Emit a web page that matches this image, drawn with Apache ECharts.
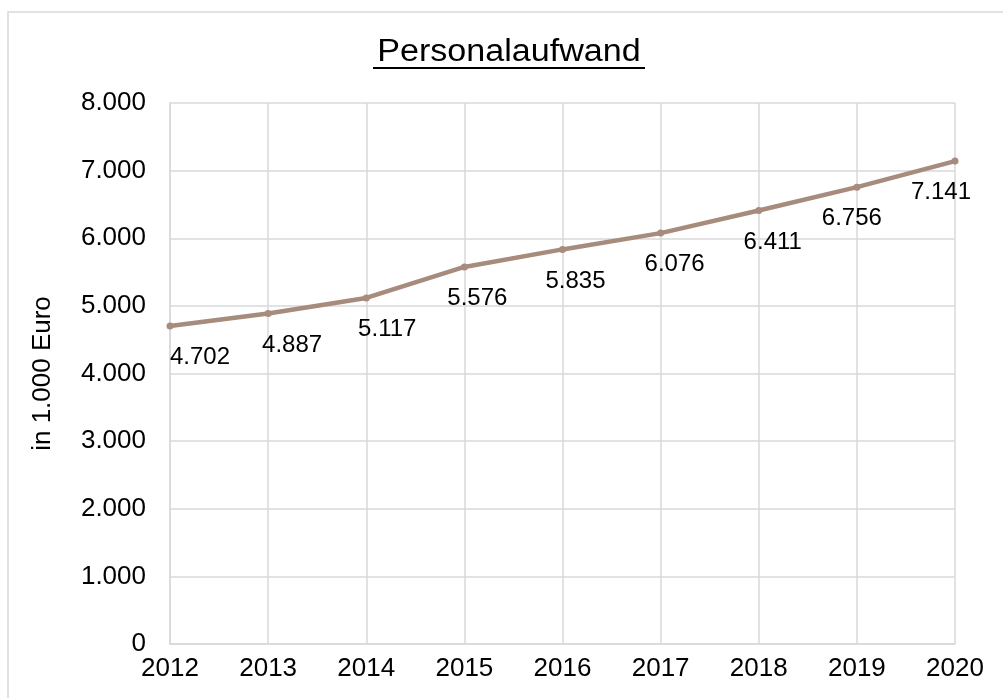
<!DOCTYPE html>
<html>
	<head>
		<meta charset="utf-8" />
		<title>Personalaufwand</title>
		<script src="https://cdn.jsdelivr.net/npm/echarts@6/dist/echarts.min.js"></script>
		<style>
			html, body { margin: 0; padding: 0; background: #fff; }
			#main { width: 1003px; height: 698px; }
		</style>
	</head>
	<body>
		<div id="main"></div>
	</body>
	<script type="text/javascript">
		// Daten
		var years = ['2012', '2013', '2014', '2015', '2016', '2017', '2018', '2019', '2020'];
		var personalaufwand = [4702, 4887, 5117, 5576, 5835, 6076, 6411, 6756, 7141];
		var yTicks = [0, 1000, 2000, 3000, 4000, 5000, 6000, 7000, 8000];

		// horizontale Verschiebung der Beschriftungen wie im Original
		var labelShift = [30, 24, 21, 13, 13, 14, 14, -5, -14];

		// 1234 -> "1.234"
		function fmt(v) {
			return String(v).replace(/\B(?=(\d{3})+(?!\d))/g, '.');
		}

		var font = 'Liberation Sans, Arial, sans-serif';
		var grau = '#d9d9d9';
		var linie = '#a78b7d';

		var seriesData = personalaufwand.map(function (v, i) {
			return { value: v, label: { offset: [labelShift[i], 0] } };
		});

		var myCharts = echarts.init(document.getElementById('main'));
		var option = {
			animation: false,
			backgroundColor: '#fff',
			grid: { left: 170, right: 48, top: 103, bottom: 54 },
			xAxis: {
				type: 'category',
				data: years,
				boundaryGap: false,
				axisLine: { lineStyle: { color: grau, width: 1.5 } },
				axisTick: { show: false },
				axisLabel: { color: '#000', fontSize: 26, fontFamily: font, margin: 12 },
				splitLine: { show: true, lineStyle: { color: grau, width: 1.5 } }
			},
			yAxis: {
				type: 'value',
				min: yTicks[0],
				max: yTicks[yTicks.length - 1],
				interval: 1000,
				name: 'in 1.000 Euro',
				nameLocation: 'middle',
				nameGap: 114,
				nameRotate: 90,
				nameTextStyle: { color: '#000', fontSize: 26, fontFamily: font },
				axisLine: { show: true, lineStyle: { color: grau, width: 1.5 } },
				axisTick: { show: false },
				axisLabel: { color: '#000', fontSize: 26, fontFamily: font, margin: 24, formatter: fmt },
				splitLine: { show: true, lineStyle: { color: grau, width: 1.5 } }
			},
			series: [{
				type: 'line',
				data: seriesData,
				symbol: 'circle',
				symbolSize: 7,
				lineStyle: { color: linie, width: 4.5 },
				itemStyle: { color: linie },
				label: {
					show: true,
					position: 'bottom',
					distance: 16,
					color: '#000',
					fontSize: 24,
					fontFamily: font,
					formatter: function (p) { return fmt(p.value); }
				}
			}],
			graphic: [
				{
					type: 'rect',
					shape: { x: 8, y: 12, width: 1010, height: 710 },
					style: { fill: null, stroke: grau, lineWidth: 1.5 },
					z: -1
				},
				{
					type: 'text',
					x: 509,
					y: 37,
					scaleX: 1.1,
					style: {
						text: 'Personalaufwand',
						font: '31px Liberation Sans, Arial, sans-serif',
						fill: '#000',
						textAlign: 'center'
					}
				},
				{
					type: 'line',
					shape: { x1: 373, y1: 68, x2: 645, y2: 68 },
					style: { stroke: '#000', lineWidth: 2 }
				}
			]
		};
		myCharts.setOption(option);
	</script>
</html>
